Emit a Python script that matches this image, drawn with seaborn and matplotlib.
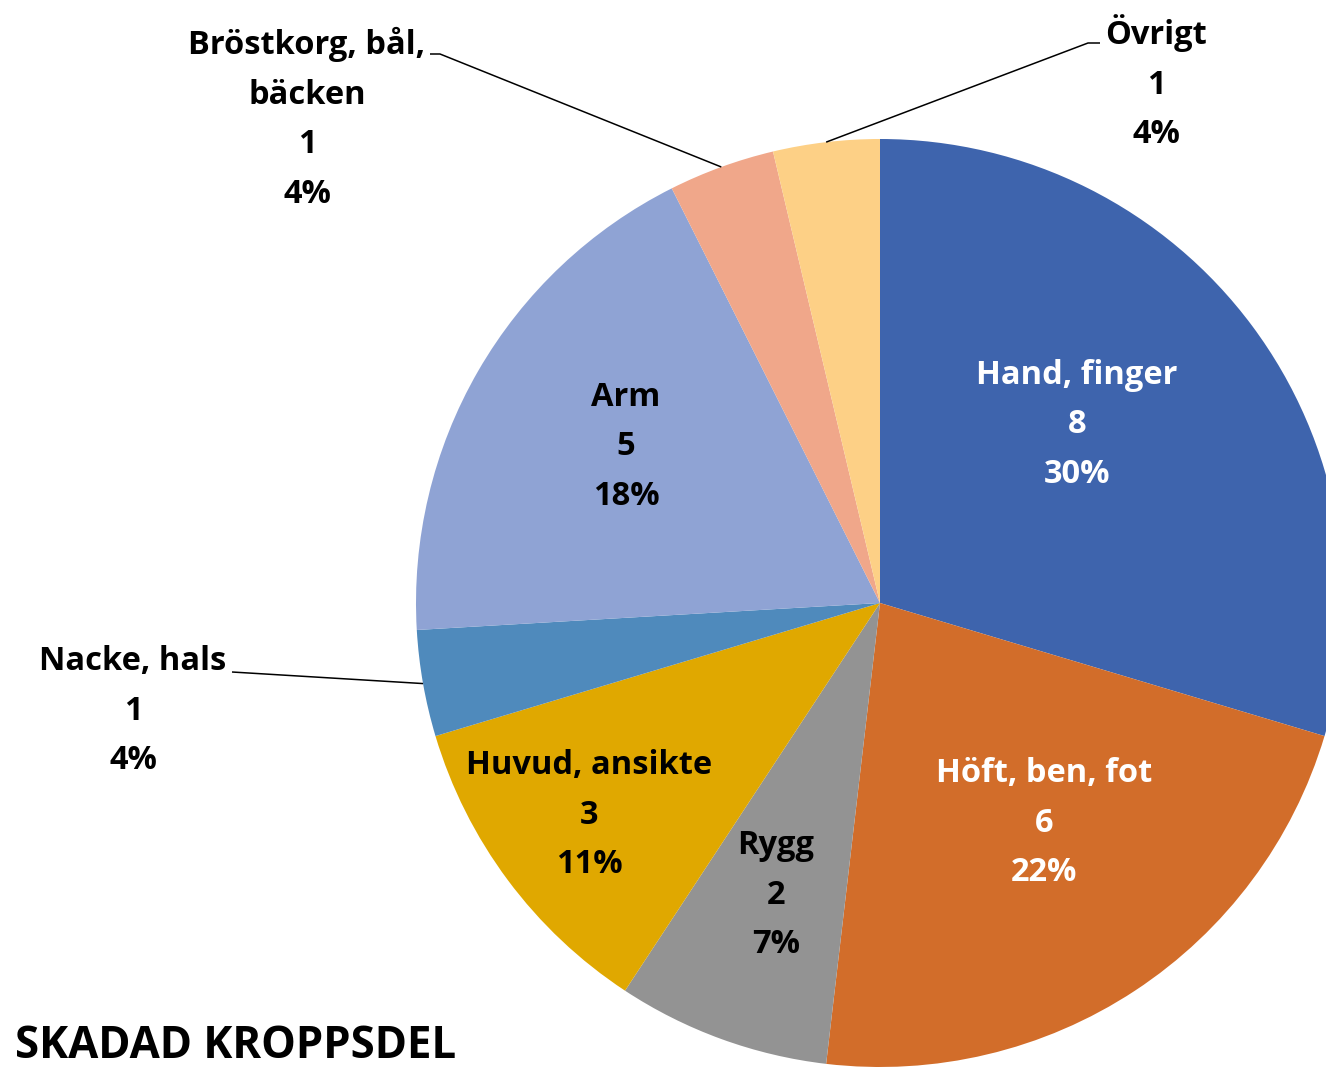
import matplotlib
matplotlib.use("Agg")
import matplotlib.pyplot as plt
import seaborn as sns
import numpy as np

# ---- data ----
categories = ["Hand, finger", "Höft, ben, fot", "Rygg", "Huvud, ansikte",
              "Nacke, hals", "Arm", "Bröstkorg, bål,\nbäcken", "Övrigt"]
counts = [8, 6, 2, 3, 1, 5, 1, 1]
pct_labels = ["30%", "22%", "7%", "11%", "4%", "18%", "4%", "4%"]
colors = ["#3E64AD", "#D26D2A", "#939393", "#E0A800",
          "#4F8ABC", "#8FA3D4", "#F0A78A", "#FDD086"]
text_colors = ["white", "white", "black", "black", "black", "black", "black", "black"]
title = "SKADAD KROPPSDEL"

sns.set_theme(style="white")
plt.rcParams["font.family"] = ["Open Sans", "DejaVu Sans"]

W, H = 1326, 1067
fig = plt.figure(figsize=(W / 100, H / 100), dpi=100)
ax = fig.add_axes([0, 0, 1, 1])

cx_px, cy_px, r_px = 880, 603, 464
wedges, _ = ax.pie(counts, colors=colors, startangle=90, counterclock=False,
                   radius=1.0, wedgeprops=dict(linewidth=0))
ax.set_xlim(-cx_px / r_px, (W - cx_px) / r_px)
ax.set_ylim(-(H - cy_px) / r_px, cy_px / r_px)
ax.set_aspect("auto")
ax.axis("off")

def px(x, y):
    return ((x - cx_px) / r_px, (cy_px - y) / r_px)

# label anchor positions (layout, in pixel space of the figure)
label_pos = [(1077, 425), (1044, 823), (776, 895), (589, 815),
             (133, 711), (626, 447), (307, 119), (1156, 83)]
# leader-line starting points for outside labels (index -> list of pixel points)
leaders = {4: [(232, 672)], 6: [(430, 54), (440, 54)], 7: [(1100, 43), (1088, 43)]}

fs = 23.5
for i, w in enumerate(wedges):
    txt = f"{categories[i]}\n{counts[i]}\n{pct_labels[i]}"
    x, y = px(*label_pos[i])
    ax.text(x, y, txt, ha="center", va="center", fontsize=fs, fontweight="bold",
            color=text_colors[i], linespacing=1.66, multialignment="center")
    if i in leaders:
        mid = np.deg2rad((w.theta1 + w.theta2) / 2)
        pts = [px(*p) for p in leaders[i]] + [(np.cos(mid), np.sin(mid))]
        xs, ys = zip(*pts)
        ax.plot(xs, ys, color="black", lw=1.1, solid_capstyle="butt")

fig.text(15 / W, 1 - 1058 / H, title, ha="left", va="baseline",
         fontsize=31.5, fontweight="bold", color="black")

fig.savefig("out.png", dpi=100)
